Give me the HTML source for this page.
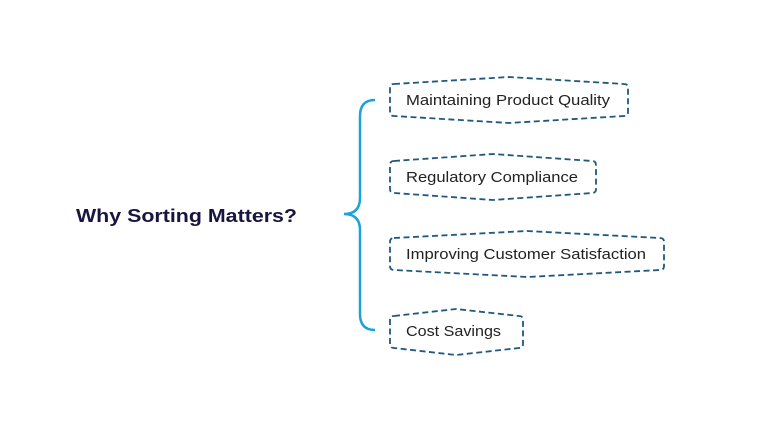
<!DOCTYPE html>
<html><head><style>
body{margin:0;background:#fff;width:768px;height:427px;overflow:hidden}
svg text{font-family:"Liberation Sans",sans-serif}
</style></head><body>
<svg width="768" height="427" viewBox="0 0 768 427">
<text x="76" y="222" font-size="18.5" font-weight="bold" fill="#161640" textLength="221" lengthAdjust="spacingAndGlyphs">Why Sorting Matters?</text>
<path d="M375 100 Q360 100 360 116 L360 198 Q360 214 344 214 Q360 214 360 230 L360 314 Q360 330 375 330" fill="none" stroke="#1ba3dc" stroke-width="2.5"/>
<g fill="none" stroke="#20587e" stroke-width="1.8" stroke-dasharray="6 3.5">
<path d="M394 84 L509 77 L624 84 Q628 84 628 88 L628 112 Q628 116 624 116 L509 123 L394 116 Q390 116 390 112 L390 88 Q390 84 394 84Z"/>
<path d="M394 161 L493 154 L592 161 Q596 161 596 165 L596 189 Q596 193 592 193 L493 200 L394 193 Q390 193 390 189 L390 165 Q390 161 394 161Z"/>
<path d="M394 238 L527 231 L660 238 Q664 238 664 242 L664 266 Q664 270 660 270 L527 277 L394 270 Q390 270 390 266 L390 242 Q390 238 394 238Z"/>
<path d="M394 316 L456 309 L519 316 Q523 316 523 320 L523 344 Q523 348 519 348 L456 355 L394 348 Q390 348 390 344 L390 320 Q390 316 394 316Z"/>
</g>
<g font-size="15" fill="#222" lengthAdjust="spacingAndGlyphs">
<text x="406" y="105" textLength="204" lengthAdjust="spacingAndGlyphs">Maintaining Product Quality</text>
<text x="406" y="182" textLength="172" lengthAdjust="spacingAndGlyphs">Regulatory Compliance</text>
<text x="406" y="259" textLength="240" lengthAdjust="spacingAndGlyphs">Improving Customer Satisfaction</text>
<text x="406" y="336" textLength="95" lengthAdjust="spacingAndGlyphs">Cost Savings</text>
</g>
</svg>
</body></html>
